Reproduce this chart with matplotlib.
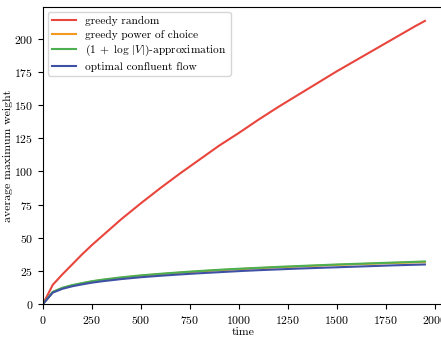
import matplotlib
matplotlib.use("Agg")
import matplotlib.pyplot as plt

plt.rcParams["font.family"] = ["cmr10", "DejaVu Serif"]
plt.rcParams["mathtext.fontset"] = "cm"
plt.rcParams["axes.formatter.use_mathtext"] = True
plt.rcParams["font.size"] = 9

# time steps
time = [0, 50, 100, 150, 200, 250, 300, 400, 500, 600, 700, 800, 900, 1000,
        1100, 1200, 1300, 1400, 1500, 1600, 1700, 1800, 1900, 1950]

greedy_random = [0, 14.5, 22.5, 30, 37.5, 44.5, 51, 64, 76, 87.5, 98.5, 109, 119.5, 129,
                 139, 148.5, 157.5, 166.5, 175.5, 184, 192.5, 201, 209.5, 213.5]
power_of_choice = [0, 9, 12, 14, 15.5, 17, 18, 19.8, 21.3, 22.5, 23.6, 24.6, 25.5, 26.3,
                   27, 27.7, 28.3, 28.9, 29.5, 30, 30.5, 31, 31.4, 31.6]
log_approx = [0, 9.2, 12.3, 14.3, 15.8, 17.2, 18.3, 20.1, 21.6, 22.8, 23.9, 24.9, 25.8, 26.6,
              27.3, 28, 28.6, 29.2, 29.8, 30.3, 30.8, 31.3, 31.8, 32.1]
optimal_flow = [0, 8.6, 11.5, 13.4, 14.8, 16.1, 17.1, 18.8, 20.2, 21.3, 22.3, 23.2, 24, 24.8,
                25.5, 26.1, 26.7, 27.2, 27.7, 28.2, 28.7, 29.2, 29.6, 29.8]

fig = plt.figure(figsize=(4.41, 3.38), dpi=100)
ax = fig.add_axes([43 / 441, 34 / 338, 401 / 441, 297 / 338])

ax.plot(time, greedy_random, color="#e8453c", lw=1.5, label="greedy random")
ax.plot(time, power_of_choice, color="#f39a1e", lw=1.5, label="greedy power of choice")
ax.plot(time, log_approx, color="#4caf50", lw=1.5, label=r"$(1\;+\;\log\,|V|)$-approximation")
ax.plot(time, optimal_flow, color="#3f51a5", lw=1.5, label="optimal confluent flow")

ax.set_xlim(0, 2047.5)
ax.set_ylim(0, 224)
ax.set_xticks([0, 250, 500, 750, 1000, 1250, 1500, 1750, 2000])
ax.set_yticks([0, 25, 50, 75, 100, 125, 150, 175, 200])
ax.tick_params(labelsize=8.5, length=3.5)
ax.set_xlabel("time", labelpad=1, fontsize=8.5)
ax.set_ylabel("average maximum weight", labelpad=1, fontsize=8.5)
ax.legend(loc="upper left", fontsize=8.2, labelspacing=0.3, handlelength=2.1,
          borderpad=0.35, borderaxespad=0.45)

fig.savefig("out.png", dpi=100)
